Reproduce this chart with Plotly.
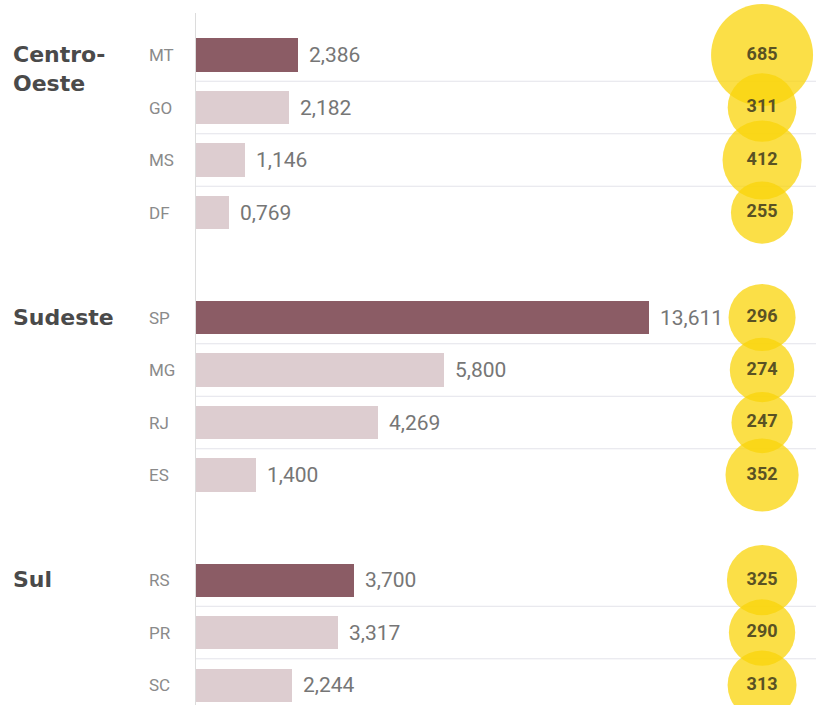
import numpy as np
import plotly.graph_objects as go

# ---- data ----
regions = ["Centro-Oeste", "Sudeste", "Sul"]
region_labels = ["Centro-<br>Oeste", "Sudeste", "Sul"]
states = ["MT", "GO", "MS", "DF", "SP", "MG", "RJ", "ES", "RS", "PR", "SC"]
state_region = ["Centro-Oeste"] * 4 + ["Sudeste"] * 4 + ["Sul"] * 3
bar_values = [2.386, 2.182, 1.146, 0.769, 13.611, 5.800, 4.269, 1.400, 3.700, 3.317, 2.244]
bubble_values = [685, 311, 412, 255, 296, 274, 247, 352, 325, 290, 313]

# ---- styling / layout constants ----
W, H = 816, 705
ML, MT_, MR, MB = 196, 13, 0, 0
X_MAX = 14.52          # x-axis extent (value units)
BAR_CAP = 10.6         # longest bar drawn as truncated (broken) bar
CIRCLE_X = 0.913       # bubble column position on the overlay axis
DARK = "#8b5c65"
LIGHT = "#ddcdd0"
BUBBLE = "rgb(250,212,10)"
GRID = "#e3e3ea"

# row positions: one empty slot between regions
rows = []
pos = 0
prev = None
for r in state_region:
    if prev is not None and r != prev:
        pos += 1
    rows.append(pos)
    pos += 1
    prev = r
rows = np.array(rows, dtype=float)

first_in_region = [i == 0 or state_region[i] != state_region[i - 1] for i in range(len(states))]
colors = [DARK if f else LIGHT for f in first_in_region]
shown = np.minimum(np.array(bar_values), BAR_CAP)

def fmt(v):
    return f"{v:.3f}".replace(".", ",")

fig = go.Figure()
fig.add_trace(go.Bar(
    x=shown, y=rows, orientation="h", width=0.63,
    marker=dict(color=colors, line=dict(width=0)),
    hoverinfo="skip", showlegend=False,
))

max_d = 102
fig.add_trace(go.Scatter(
    x=[CIRCLE_X] * len(states), y=rows, xaxis="x2", yaxis="y",
    mode="markers+text",
    marker=dict(size=bubble_values, sizemode="area",
                sizeref=2.0 * max(bubble_values) / max_d ** 2,
                color=BUBBLE, opacity=0.75, line=dict(width=0)),
    text=[str(v) for v in bubble_values], textposition="middle center",
    textfont=dict(family="Roboto", size=18, color="#5a5224", weight="bold"),
    cliponaxis=False, hoverinfo="skip", showlegend=False,
))

annotations = []
# value labels
for v, s, y in zip(bar_values, shown, rows):
    annotations.append(dict(
        x=s, y=y, xref="x", yref="y", text=fmt(v), showarrow=False,
        xanchor="left", yanchor="middle", xshift=9,
        font=dict(family="Roboto", size=21, color="#767676"),
    ))
# state labels
for st, y in zip(states, rows):
    annotations.append(dict(
        x=0, y=y, xref="paper", yref="y", text=st, showarrow=False,
        xanchor="left", yanchor="middle", xshift=-49,
        font=dict(family="Roboto", size=17, color="#8a8a8a"),
    ))
# region labels
for reg, lab in zip(regions, region_labels):
    y0 = rows[state_region.index(reg)]
    annotations.append(dict(
        x=0, y=y0, xref="paper", yref="y", text=lab, showarrow=False,
        xanchor="left", yanchor="top", yshift=15, xshift=-185, align="left",
        font=dict(family="DejaVu Sans", size=22, color="#4a4a4a", weight="bold"),
    ))

shapes = []
for i in range(1, len(states)):
    if state_region[i] == state_region[i - 1]:
        ym = (rows[i] + rows[i - 1]) / 2
        shapes.append(dict(type="line", xref="paper", x0=0, x1=1, yref="y",
                           y0=ym, y1=ym, line=dict(color=GRID, width=1), layer="below"))

fig.update_layout(
    width=W, height=H,
    margin=dict(l=ML, r=MR, t=MT_, b=MB, pad=0),
    paper_bgcolor="white", plot_bgcolor="white",
    xaxis=dict(range=[0, X_MAX], showgrid=False, zeroline=False,
               showticklabels=False, showline=False, fixedrange=True),
    xaxis2=dict(range=[0, 1], overlaying="x", showgrid=False, zeroline=False,
                showticklabels=False, showline=False, fixedrange=True),
    yaxis=dict(range=[12.38, -0.8], showgrid=False, zeroline=False,
               showticklabels=False, showline=True, linecolor="#dcdcdc",
               linewidth=1, fixedrange=True),
    annotations=annotations, shapes=shapes,
    bargap=0,
)

fig.write_html("out.html", config={"displayModeBar": False})
